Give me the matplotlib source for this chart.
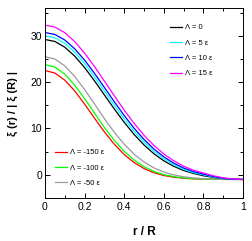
import matplotlib
matplotlib.use('Agg')
import matplotlib.pyplot as plt
from matplotlib.ticker import MultipleLocator, FuncFormatter

plt.rcParams['font.family'] = ['Liberation Sans', 'DejaVu Sans']

# r / R sampled every 0.05
r = [0.00, 0.05, 0.10, 0.15, 0.20, 0.25, 0.30, 0.35, 0.40, 0.45, 0.50,
     0.55, 0.60, 0.65, 0.70, 0.75, 0.80, 0.85, 0.90, 0.95, 1.00]

# xi(r) / |xi(R)| for each Lambda
xi_m150 = [22.5, 21.97, 20.43, 18.11, 15.26, 12.22, 9.27, 6.61, 4.39, 2.65, 1.36,
           0.45, -0.14, -0.52, -0.74, -0.87, -0.93, -0.97, -0.99, -1.0, -1.0]
xi_m100 = [23.8, 23.26, 21.71, 19.35, 16.44, 13.31, 10.23, 7.44, 5.07, 3.17, 1.75,
           0.73, 0.04, -0.40, -0.67, -0.82, -0.91, -0.96, -0.98, -0.99, -1.0]
xi_m50 = [25.5, 24.99, 23.51, 21.23, 18.40, 15.28, 12.13, 9.19, 6.61, 4.46, 2.77,
          1.50, 0.60, -0.02, -0.42, -0.67, -0.82, -0.90, -0.95, -0.98, -1.0]
xi_0 = [29.2, 28.78, 27.55, 25.62, 23.14, 20.28, 17.24, 14.21, 11.33, 8.72, 6.45,
        4.55, 3.02, 1.84, 0.94, 0.30, -0.20, -0.55, -0.82, -0.96, -1.0]
xi_5 = [30.0, 29.58, 28.37, 26.45, 23.98, 21.12, 18.07, 15.00, 12.07, 9.39, 7.04,
        5.05, 3.44, 2.17, 1.20, 0.48, 0.00, -0.45, -0.78, -0.95, -1.0]
xi_10 = [30.7, 30.29, 29.09, 27.20, 24.75, 21.90, 18.85, 15.77, 12.80, 10.06, 7.64,
         5.57, 3.88, 2.52, 1.48, 0.70, 0.15, -0.35, -0.72, -0.93, -1.0]
xi_15 = [32.3, 31.89, 30.67, 28.76, 26.26, 23.36, 20.23, 17.05, 13.96, 11.10, 8.54,
         6.34, 4.50, 3.03, 1.87, 1.00, 0.40, -0.20, -0.65, -0.90, -1.0]

labels_haut = ['Λ = 0', 'Λ = 5 ε', 'Λ = 10 ε', 'Λ = 15 ε']
labels_bas = ['Λ = -150 ε', 'Λ = -100 ε', 'Λ = -50 ε']

fig = plt.figure(figsize=(2.52, 2.41), dpi=100)
ax = fig.add_axes([45 / 252, 1 - 198 / 241, 198 / 252, 190 / 241])

lw = 0.9
h_m150, = ax.plot(r, xi_m150, color='#ff0000', lw=lw)
h_m100, = ax.plot(r, xi_m100, color='#00ff00', lw=lw)
h_m50, = ax.plot(r, xi_m50, color='#999999', lw=lw)
h_0, = ax.plot(r, xi_0, color='black', lw=lw)
h_5, = ax.plot(r, xi_5, color='#00ffff', lw=lw)
h_10, = ax.plot(r, xi_10, color='#0000ff', lw=lw)
h_15, = ax.plot(r, xi_15, color='#ff00ff', lw=lw)

ax.set_xlim(0, 1)
ax.set_ylim(-5, 36)

# ticks everywhere, pointing inside
ax.xaxis.set_major_locator(MultipleLocator(0.2))
ax.xaxis.set_minor_locator(MultipleLocator(0.1))
ax.xaxis.set_major_formatter(FuncFormatter(lambda v, pos: '%g' % round(v, 2)))
ax.yaxis.set_major_locator(MultipleLocator(10))
ax.yaxis.set_minor_locator(MultipleLocator(5))
ax.tick_params(which='both', direction='in', top=True, right=True, width=0.7)
ax.tick_params(which='major', length=3.5, labelsize=7.5)
ax.tick_params(which='minor', length=2)
ax.tick_params(axis='x', pad=3)
ax.tick_params(axis='y', pad=2)
for sp in ax.spines.values():
    sp.set_linewidth(0.7)

ax.set_xlabel('r / R', fontsize=8.5, fontweight='bold', labelpad=10)
ax.set_ylabel('ξ (r) / | ξ (R) |', fontsize=8, fontweight='bold', labelpad=9)

leg_kw = dict(frameon=False, fontsize=5.5, handlelength=1.6, handletextpad=0.4,
              labelspacing=1.05, borderpad=0, borderaxespad=0, loc='upper left',
              bbox_transform=fig.transFigure)
leg1 = ax.legend([h_0, h_5, h_10, h_15], labels_haut,
                 bbox_to_anchor=(170 / 252, 1 - 24 / 241), **leg_kw)
ax.add_artist(leg1)
ax.legend([h_m150, h_m100, h_m50], labels_bas,
          bbox_to_anchor=(55 / 252, 1 - 149 / 241), **leg_kw)

plt.savefig('out.png', dpi=100)
